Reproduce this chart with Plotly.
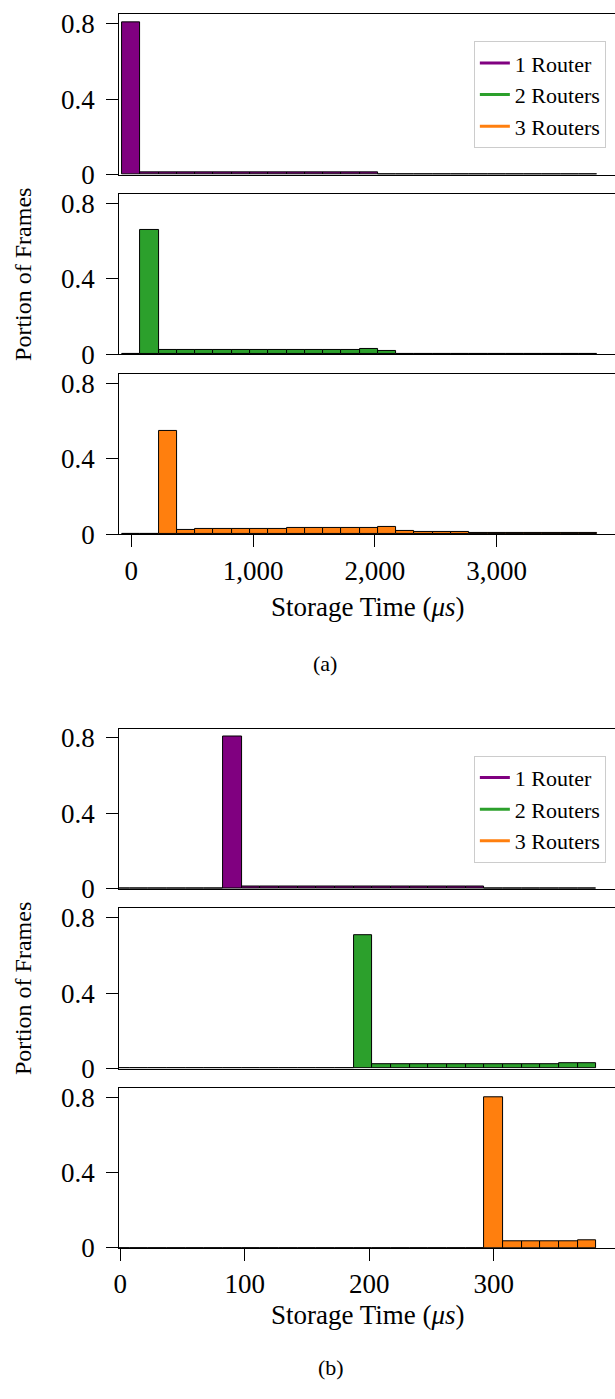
import plotly.graph_objects as go

# ---------------- data ----------------
bins_a = [0, 150, 300, 450, 600, 750, 900, 1050, 1200, 1350, 1500, 1650, 1800,
          1950, 2100, 2250, 2400, 2550, 2700, 2850, 3000, 3150, 3300, 3450, 3600, 3750]
bins_b = [0, 15, 30, 45, 60, 75, 90, 105, 120, 135, 150, 165, 180,
          195, 210, 225, 240, 255, 270, 285, 300, 315, 330, 345, 360, 375]

a_1router = [0.807, 0.013, 0.013, 0.013, 0.013, 0.013, 0.014, 0.014, 0.014, 0.014, 0.014, 0.014, 0.014,
             0.014, 0.002, 0.002, 0.002, 0.002, 0.001, 0.001, 0.001, 0.001, 0.001, 0.001, 0.001, 0.001]
a_2routers = [0.0, 0.657, 0.021, 0.022, 0.022, 0.022, 0.022, 0.022, 0.023, 0.024, 0.024, 0.025, 0.025,
              0.026, 0.018, 0.004, 0.004, 0.004, 0.003, 0.003, 0.003, 0.003, 0.002, 0.002, 0.002, 0.002]
a_3routers = [0.0, 0.0, 0.548, 0.024, 0.026, 0.026, 0.030, 0.030, 0.030, 0.033, 0.033, 0.033, 0.035,
              0.035, 0.037, 0.019, 0.012, 0.012, 0.010, 0.009, 0.009, 0.007, 0.008, 0.008, 0.007, 0.005]

b_1router = [0.0, 0.0, 0.0, 0.0, 0.0, 0.0, 0.810, 0.013, 0.013, 0.013, 0.013, 0.013, 0.013,
             0.013, 0.014, 0.014, 0.014, 0.014, 0.015, 0.015, 0.002, 0.002, 0.002, 0.002, 0.002, 0.002]
b_2routers = [0.0, 0.0, 0.0, 0.0, 0.0, 0.0, 0.0, 0.0, 0.0, 0.0, 0.0, 0.0, 0.0,
              0.706, 0.021, 0.022, 0.022, 0.023, 0.023, 0.023, 0.024, 0.024, 0.024, 0.024, 0.028, 0.029]
b_3routers = [0.0, 0.0, 0.0, 0.0, 0.0, 0.0, 0.0, 0.0, 0.0, 0.0, 0.0, 0.0, 0.0,
              0.0, 0.0, 0.0, 0.0, 0.0, 0.0, 0.0, 0.804, 0.033, 0.034, 0.036, 0.038, 0.040]

series_names = ["1 Router", "2 Routers", "3 Routers"]
colors = ["#800080", "#2ca02c", "#ff7f0e"]
y_ticks = [0, 0.4, 0.8]
x_ticks_a = [0, 1000, 2000, 3000]
x_ticks_b = [0, 100, 200, 300]
x_title = "Storage Time (<i>μs</i>)"
y_title = "Portion of Frames"

# ---------------- layout helpers ----------------
W, H = 615, 1399
FONT = "Liberation Serif, Times New Roman, serif"


def py(p):
    return 1 - p / H


def px(p):
    return p / W


panels_px = [(9.5, 172.3), (191.7, 354.3), (374.3, 537.0),
             (734.0, 896.7), (916.3, 1079.0), (1099.0, 1261.0)]
x_dom = [px(115), 1.0]
range_a = [-100, 3971]
range_b = [-1.0, 397.4]

panel_data = [(bins_a, a_1router, 0, 150), (bins_a, a_2routers, 1, 150), (bins_a, a_3routers, 2, 150),
              (bins_b, b_1router, 0, 15), (bins_b, b_2routers, 1, 15), (bins_b, b_3routers, 2, 15)]

fig = go.Figure()
layout = {}
for i, ((top, bot), (xs, ys, ci, bw)) in enumerate(zip(panels_px, panel_data)):
    n = i + 1
    xa = "x" if n == 1 else f"x{n}"
    ya = "y" if n == 1 else f"y{n}"
    fig.add_trace(go.Bar(x=xs, y=ys, width=bw, xaxis=xa, yaxis=ya,
                         marker=dict(color=colors[ci], line=dict(color="black", width=1)),
                         showlegend=False))
    is_bottom = (i % 3 == 2)
    group_a = i < 3
    xaxis = dict(domain=x_dom, anchor=ya, range=range_a if group_a else range_b,
                 showline=True, linecolor="black", linewidth=1, mirror=True,
                 showgrid=False, zeroline=False,
                 ticks="outside" if is_bottom else "", ticklen=12, tickcolor="black",
                 showticklabels=is_bottom,
                 tickvals=(x_ticks_a if group_a else x_ticks_b) if is_bottom else [],
                 tickformat=",d",
                 tickfont=dict(family=FONT, size=27, color="black"))
    yaxis = dict(domain=[py(bot), py(top)], anchor=xa, range=[0, 0.85],
                 showline=True, linecolor="black", linewidth=1, mirror=False,
                 showgrid=False, zeroline=False,
                 ticks="outside", ticklen=12, tickcolor="black",
                 tickvals=y_ticks, ticklabelstandoff=6,
                 tickfont=dict(family=FONT, size=27, color="black"))
    layout["xaxis" if n == 1 else f"xaxis{n}"] = xaxis
    layout["yaxis" if n == 1 else f"yaxis{n}"] = yaxis

# legend entries (line samples)
for lg, xa, ya in [("legend", "x", "y"), ("legend2", "x4", "y4")]:
    for name, c in zip(series_names, colors):
        fig.add_trace(go.Scatter(x=[None], y=[None], mode="lines", name=name,
                                 line=dict(color=c, width=3), xaxis=xa, yaxis=ya,
                                 legend=lg, showlegend=True))

leg_common = dict(xanchor="left", yanchor="top", bgcolor="white",
                  bordercolor="#cccccc", borderwidth=1,
                  font=dict(family=FONT, size=22, color="black"),
                  tracegroupgap=0)
layout["legend"] = dict(x=px(472.7), y=py(36.7), **leg_common)
layout["legend2"] = dict(x=px(472.7), y=py(761.7), **leg_common)

annotations = []
for (title_y, cap_x, cap_y, cap, ymid) in [(611, 323, 668, "(a)", 273), (1329, 329, 1382.5, "(b)", 997.5)]:
    annotations.append(dict(text=x_title, x=px(366), y=py(title_y), xref="paper", yref="paper",
                            showarrow=False, xanchor="center", yanchor="middle",
                            font=dict(family=FONT, size=27, color="black")))
    annotations.append(dict(text=cap, x=px(cap_x), y=py(cap_y), xref="paper", yref="paper",
                            showarrow=False, xanchor="center", yanchor="middle",
                            font=dict(family=FONT, size=22, color="black")))
    annotations.append(dict(text=y_title, x=px(18), y=py(ymid), xref="paper", yref="paper",
                            showarrow=False, xanchor="center", yanchor="middle", textangle=-90,
                            font=dict(family=FONT, size=24, color="black")))

fig.update_layout(width=W, height=H, margin=dict(l=0, r=0, t=0, b=0),
                  paper_bgcolor="white", plot_bgcolor="white",
                  bargap=0, barmode="overlay", annotations=annotations,
                  **layout)

fig.write_html("out.html",
               post_script="document.body.style.margin='0';document.body.style.padding='0';"
                           "document.documentElement.style.overflow='hidden';")
